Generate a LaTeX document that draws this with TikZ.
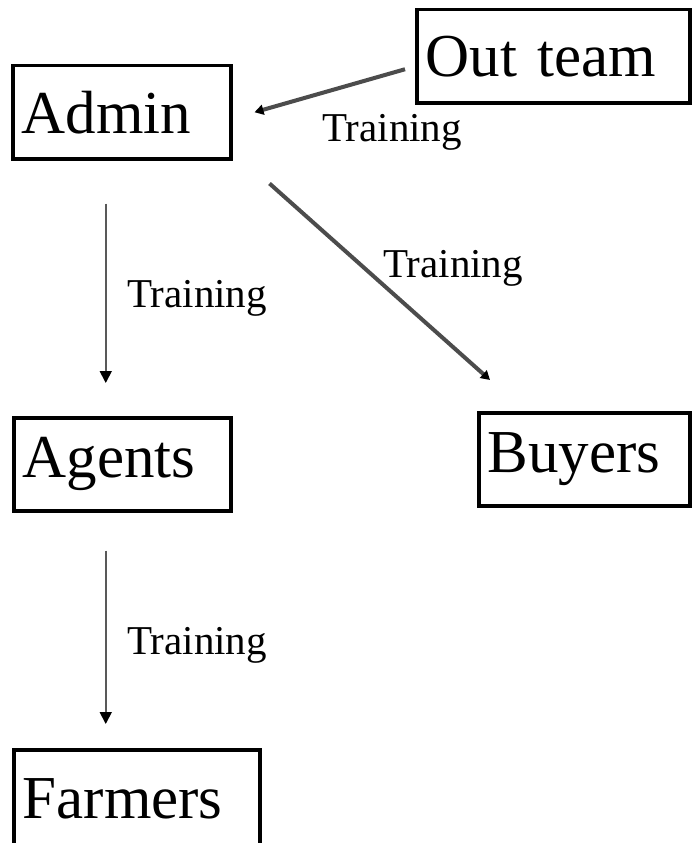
\documentclass[tikz,border=0pt]{standalone}
\usepackage{fontspec}
\setmainfont{Liberation Serif}
\usepackage{tikz}
\usetikzlibrary{arrows,arrows.meta,shapes}
\tikzstyle{unit}=[draw,line width=3.5pt,anchor=north west,align=left,inner xsep=9pt,minimum height=93pt,font=\fontsize{61}{66}\selectfont]
\tikzstyle{edge} = [draw,line width=1.8pt,black!65,-{Triangle[length=12pt,width=12pt,color=black,fill=black]}]
\tikzstyle{fatedge} = [draw,line width=4pt,black!70,-{Triangle[length=9pt,width=10pt,color=black,fill=black]}]
\tikzstyle{lbl}=[font=\fontsize{41}{44}\selectfont,inner sep=0pt]

\begin{document}
\begin{tikzpicture}[x=1pt,y=-1pt]
  \useasboundingbox (0,0) rectangle (691,843);
  \node[unit,text width=200pt] (admin) at (11,64) {Admin};
  \node[unit,text width=255pt] (outteam) at (415,8) {Out team};
  \node[unit,text width=199pt] (agents) at (12,416) {Agents};
  \node[unit,text width=193pt] (buyers) at (477,411) {Buyers};
  \node[unit,text width=228pt,minimum height=120pt] (farmers) at (12,748) {\raisebox{23pt}{Farmers}};
  \node[lbl] (t1) at (392,132) {Training};
  \node[lbl] (t2) at (453,268) {Training};
  \node[lbl] (t3) at (197,298) {Training};
  \node[lbl] (t4) at (197,645) {Training};
    \draw[fatedge] ([xshift=-10pt,yshift=-13pt]outteam.west) to ([xshift=22pt]admin.east);
    \draw[fatedge] ([xshift=37pt,yshift=-23pt]admin.south east) to ([xshift=13pt,yshift=31pt]buyers.north west);
    \draw[edge] ([xshift=-16pt,yshift=-43pt]admin.south) to ([xshift=-16.5pt,yshift=33pt]agents.north);
    \draw[edge] ([xshift=-16.5pt,yshift=-38pt]agents.south) to ([xshift=-31pt,yshift=24pt]farmers.north);
\end{tikzpicture}
\end{document}
